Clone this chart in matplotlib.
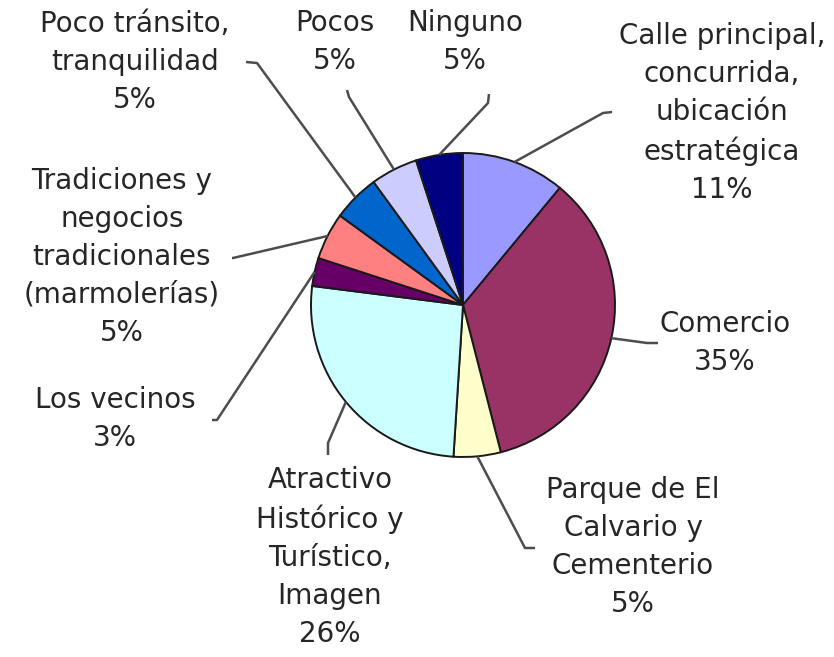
import numpy as np
import matplotlib.pyplot as plt

plt.rcParams['font.family'] = ['DejaVu Sans']

# shares per category, clockwise from 12 o'clock
categories = ["Calle principal,\nconcurrida,\nubicación\nestratégica",
              "Comercio",
              "Parque de El\nCalvario y\nCementerio",
              "Atractivo\nHistórico y\nTurístico,\nImagen",
              "Los vecinos",
              "Tradiciones y\nnegocios\ntradicionales\n(marmolerías)",
              "Poco tránsito,\ntranquilidad",
              "Pocos",
              "Ninguno"]
percent = [11, 35, 5, 26, 3, 5, 5, 5, 5]
colors = ['#9999FF', '#993366', '#FFFFCC', '#CCFFFF', '#660066',
          '#FF8080', '#0066CC', '#CCCCFF', '#000080']

W, H = 834, 657
# label anchor (text centre) and leader-line elbow, measured from the top-left
label_pos = [(722, 113), (725, 343), (633, 547), (330, 557), (115, 419),
             (122, 257), (135, 62), (335, 42), (465, 42)]
elbows = [[(603, 113), (612, 112)],
          [(647, 343), (658, 343)],
          [(525, 548), (535, 548)],
          [(328, 443), (328, 455)],
          [(217, 420), (212, 420)],
          [(233, 258), (232, 258)],
          [(257, 63), (246, 62)],
          [(349, 97), (347, 90)],
          [(488, 103), (489, 94)]]

cx, cy, rad = 463, H - 305, 152

fig = plt.figure(figsize=(8.34, 6.57), dpi=100)
ax = fig.add_axes([0, 0, 1, 1])

wedges, _ = ax.pie(percent, colors=colors, startangle=90, counterclock=False,
                   center=(cx, cy), radius=rad, frame=True,
                   wedgeprops=dict(edgecolor='#1a1a1a', linewidth=1.4))
ax.set_xlim(0, W)
ax.set_ylim(0, H)
ax.set_aspect('equal')
ax.axis('off')

for w, name, p, (lx, ly), elb in zip(wedges, categories, percent, label_pos, elbows):
    mid = np.deg2rad((w.theta1 + w.theta2) / 2)
    sx = cx + rad * np.cos(mid)
    sy = cy + rad * np.sin(mid)
    xs = [sx] + [e[0] for e in elb]
    ys = [sy] + [H - e[1] for e in elb]
    ax.plot(xs, ys, color='#4d4d4d', lw=1.8, solid_capstyle='butt')
    ax.text(lx, H - ly, f"{name}\n{p}%", ha='center', va='center',
            fontsize=20, color='#262626', linespacing=1.45)

fig.savefig('out.png', dpi=100)
